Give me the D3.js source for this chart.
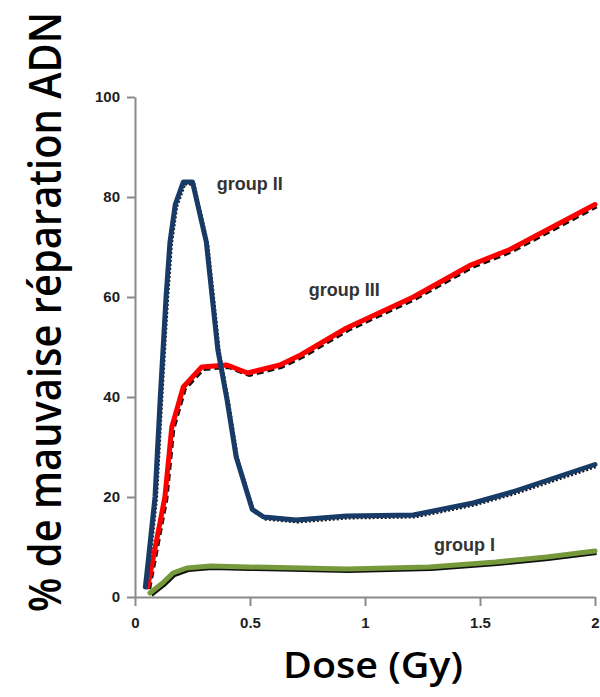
<!DOCTYPE html>
<html>
<head>
<meta charset="utf-8">
<script src="https://cdn.jsdelivr.net/npm/d3@7"></script>
<style>
  body { margin: 0; background: #fff; }
  svg { display: block; }
</style>
</head>
<body>
<div id="main"></div>
<script>
// values
let g2Dose = [0.045, 0.057, 0.087, 0.11, 0.135, 0.152, 0.175, 0.21, 0.25, 0.31, 0.36, 0.40, 0.44, 0.51, 0.56, 0.70, 0.92, 1.21, 1.47, 1.64, 2.0]
let g2Val  = [2, 7, 20, 40, 60, 71, 78.5, 83, 83, 71, 49.5, 39.5, 28, 17.5, 16, 15.4, 16.2, 16.4, 18.8, 21, 26.5]

let g3Dose = [0.055, 0.13, 0.16, 0.21, 0.29, 0.40, 0.49, 0.63, 0.72, 0.92, 1.21, 1.46, 1.63, 2.0]
let g3Val  = [2, 20, 34, 42, 46, 46.4, 44.8, 46.4, 48.4, 53.8, 60, 66.4, 69.5, 78.5]

let g1Dose = [0.065, 0.12, 0.165, 0.225, 0.33, 0.49, 0.63, 0.92, 1.28, 1.57, 1.79, 2.0]
let g1Val  = [0.8, 2.8, 4.8, 5.8, 6.2, 6, 5.9, 5.6, 6, 7, 8, 9.2]

let yTicks = [0, 20, 40, 60, 80, 100]
let xTicks = [0, 0.5, 1, 1.5, 2]

let groups = [
    {name: "group I", dose: g1Dose, val: g1Val, color: "#76993b", lx: 1.3, ly: 9.2},
    {name: "group III", dose: g3Dose, val: g3Val, color: "#ff0000", lx: 0.755, ly: 60.2},
    {name: "group II", dose: g2Dose, val: g2Val, color: "#183a66", lx: 0.355, ly: 81.4}
]
let fitDash = {"group I": null, "group III": "7,4", "group II": "2,2"}

let margin = {top: 97, right: 5, bottom: 100, left: 135}
let W = 600, H = 697

let svg = d3.select("#main").append("svg")
    .attr("width", W)
    .attr("height", H)
let g = svg.append("g")
    .attr("transform", `translate(${margin.left} ${margin.top})`)

let scX = d3.scaleLinear().domain([0, 2]).range([0, 460])
let scY = d3.scaleLinear().domain([0, 100]).range([500, 0])

// axes
let yAxis = d3.axisLeft(scY).tickValues(yTicks).tickSize(8).tickSizeOuter(0).tickPadding(7)
let gy = g.append("g").call(yAxis)
let xAxis = d3.axisBottom(scX).tickValues(xTicks).tickSize(9).tickSizeOuter(0).tickPadding(11)
    .tickFormat(d => String(d))
let gx = g.append("g").attr("transform", `translate(0, ${scY(0)})`).call(xAxis)

;[gx, gy].forEach(a => {
    a.selectAll("path, line").attr("stroke", "#8a8a8a").attr("stroke-width", 2)
    a.selectAll("text")
        .attr("fill", "#1e1e1e")
        .style("font-family", "Liberation Sans, Arial, sans-serif")
        .style("font-weight", "bold")
        .style("font-size", "15px")
})

// curves: black fit underneath, coloured data on top
let makeLine = d3.line()
    .x(d => scX(d[0]))
    .y(d => scY(d[1]))

groups.forEach(grp => {
    let pts = grp.dose.map((d, i) => [d, grp.val[i]])
    let fit = g.append("path")
        .attr("d", makeLine(pts))
        .attr("transform", "translate(1.5 2)")
        .attr("fill", "none")
        .attr("stroke", "#111")
        .attr("stroke-width", grp.name == "group II" ? 3 : 4)
        .attr("stroke-linejoin", "round")
    if (fitDash[grp.name]) fit.attr("stroke-dasharray", fitDash[grp.name])
})
groups.forEach(grp => {
    let pts = grp.dose.map((d, i) => [d, grp.val[i]])
    g.append("path")
        .attr("d", makeLine(pts))
        .attr("fill", "none")
        .attr("stroke", grp.color)
        .attr("stroke-width", 5)
        .attr("stroke-linejoin", "round")
        .attr("stroke-linecap", "round")

    g.append("text")
        .attr("x", scX(grp.lx))
        .attr("y", scY(grp.ly))
        .attr("fill", "#333")
        .style("font-family", "Liberation Sans, Arial, sans-serif")
        .style("font-weight", "bold")
        .style("font-size", "18px")
        .text(grp.name)
})

// axis titles
svg.append("text")
    .attr("x", 373)
    .attr("y", 678)
    .attr("text-anchor", "middle")
    .attr("textLength", 180)
    .attr("lengthAdjust", "spacingAndGlyphs")
    .style("font-family", "Open Sans, sans-serif")
    .style("font-weight", 600)
    .style("font-size", "36px")
    .text("Dose (Gy)")

svg.append("text")
    .attr("transform", "translate(61 312) rotate(-90) scale(1 1.18)")
    .attr("text-anchor", "middle")
    .attr("textLength", 600)
    .attr("lengthAdjust", "spacingAndGlyphs")
    .style("font-family", "Open Sans, sans-serif")
    .style("font-weight", 600)
    .style("font-size", "39px")
    .text("% de mauvaise réparation ADN")
</script>
</body>
</html>
